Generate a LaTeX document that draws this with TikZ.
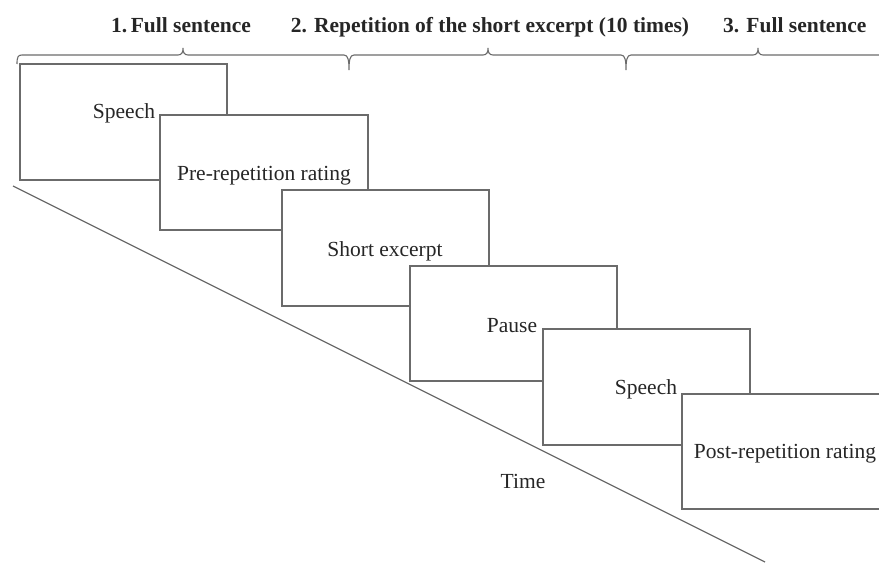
\documentclass[tikz,border=0pt]{standalone}
\usepackage{fontspec}
\setmainfont{Liberation Serif}
\begin{document}
\begin{tikzpicture}[x=1pt,y=-1pt,
  line/.style={draw=black!58, line width=1.2pt},
  box/.style={line, fill=white},
  lbl/.style={font=\fontsize{21.5}{24}\selectfont, text=black!85, inner sep=0pt, anchor=base},
  head/.style={font=\fontsize{21.5}{24}\selectfont\bfseries, text=black!85, inner sep=0pt, anchor=base}]
\useasboundingbox (0,0) rectangle (879,563);
\clip (0,0) rectangle (879,563);
% headings
\node[head] (h1) at (181,32) {1.\,Full sentence};
\node[head] (h2) at (490,32) {2. Repetition of the short excerpt (10 times)};
\node[head, anchor=base west] (h3) at (723,32) {3. Full sentence};
% braces
\draw[line, line width=1.1pt] (17,64) .. controls (17,57) and (18,55) .. (22,55)
  -- (178,55) .. controls (182,55) and (183,52) .. (183,48)
  .. controls (183,52) and (184,55) .. (188,55)
  -- (344,55) .. controls (348,55) and (349,60) .. (349,70)
  .. controls (349,60) and (350,55) .. (354,55)
  -- (483,55) .. controls (487,55) and (488,52) .. (488,48)
  .. controls (488,52) and (489,55) .. (493,55)
  -- (621,55) .. controls (625,55) and (626,60) .. (626,70)
  .. controls (626,60) and (627,55) .. (631,55)
  -- (753,55) .. controls (757,55) and (758,52) .. (758,48)
  .. controls (758,52) and (759,55) .. (763,55)
  -- (890,55);
% time axis
\coordinate (tstart) at (13,186);
\coordinate (tend) at (765,562);
\draw[line] (tstart) -- (tend);
\node[lbl] (time) at (523,488) {Time};
% boxes
\path[box] (20,64) rectangle (227,180);
\node[lbl] (t1) at (124,118) {Speech};
\path[box] (160,115) rectangle (368,230);
\node[lbl] (t2) at (264,180) {Pre-repetition rating};
\path[box] (282,190) rectangle (489,306);
\node[lbl] (t3) at (385,256) {Short excerpt};
\path[box] (410,266) rectangle (617,381);
\node[lbl] (t4) at (512,332) {Pause};
\path[box] (543,329) rectangle (750,445);
\node[lbl] (t5) at (646,394) {Speech};
\path[box] (682,394) rectangle (895,509);
\node[lbl] (t6) at (785,458) {Post-repetition rating};
\end{tikzpicture}
\end{document}
